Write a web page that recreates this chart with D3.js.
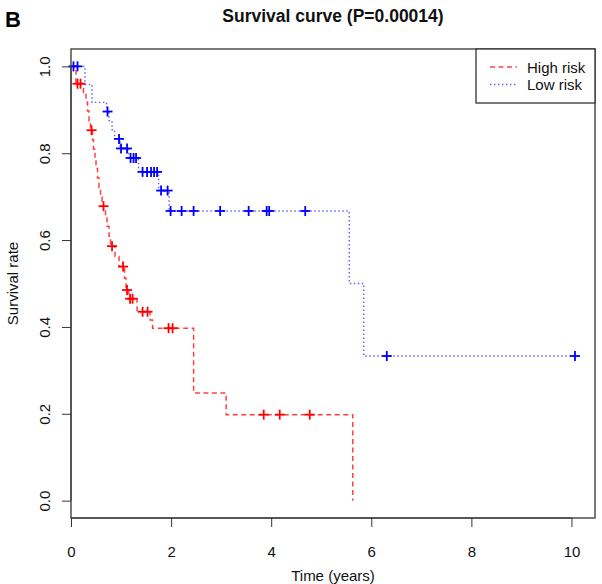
<!DOCTYPE html>
<html>
<head>
<meta charset="utf-8">
<script src="https://cdn.jsdelivr.net/npm/d3@7"></script>
<style>
  html, body { margin: 0; padding: 0; background: #fff; }
  svg { display: block; font-family: "Liberation Sans", Arial, sans-serif; }
</style>
</head>
<body>
<svg id="chart" width="602" height="584"></svg>
<script>
// ---------------- data ----------------
const panelLabel = "B";
const chartTitle = "Survival curve (P=0.00014)";
const xLabel = "Time (years)";
const yLabel = "Survival rate";
const seriesNames = ["High risk", "Low risk"];

const xTicks = [0, 2, 4, 6, 8, 10];
const yTicks = [0.0, 0.2, 0.4, 0.6, 0.8, 1.0];

// High risk: event times and survival after each step
const highTimes = [0, 0.10, 0.25, 0.30, 0.33, 0.36, 0.39, 0.43, 0.45, 0.48, 0.50, 0.53, 0.56, 0.59, 0.62,
                   0.69, 0.72, 0.76, 0.79, 0.88, 0.96, 1.07, 1.10, 1.15, 1.32, 1.58, 1.63, 2.45, 3.10, 5.63];
const highSurv  = [1.0, 0.960, 0.940, 0.918, 0.897, 0.875, 0.853, 0.831, 0.809, 0.787, 0.765, 0.743, 0.721, 0.699, 0.678,
                   0.655, 0.632, 0.609, 0.586, 0.562, 0.539, 0.512, 0.485, 0.465, 0.435, 0.416, 0.397, 0.248, 0.198, 0.0];
const highCensor = [0.13, 0.19, 0.41, 0.65, 0.82, 1.04, 1.12, 1.18, 1.23, 1.43, 1.53, 1.95, 2.03, 3.85, 4.17, 4.77];

// Low risk
const lowTimes = [0, 0.28, 0.42, 0.71, 0.76, 0.82, 0.87, 0.98, 1.15, 1.35, 1.75, 1.96, 5.56, 5.85];
const lowSurv  = [1.0, 0.958, 0.917, 0.896, 0.875, 0.854, 0.833, 0.811, 0.789, 0.757, 0.714, 0.667, 0.500, 0.333];
const lowCensor = [0.05, 0.13, 0.73, 0.96, 1.00, 1.12, 1.19, 1.25, 1.30, 1.43, 1.52, 1.60, 1.66, 1.72,
                   1.80, 1.93, 1.99, 2.21, 2.45, 2.98, 3.55, 3.91, 3.96, 4.68, 6.31, 10.07];

// ---------------- drawing ----------------
const svg = d3.select("#chart");
const box = { left: 71, right: 595, top: 49, bottom: 518 };

const x = d3.scaleLinear().domain([0, 10.47]).range([box.left, box.right]);
const y = d3.scaleLinear().domain([-0.04, 1.04]).range([box.bottom, box.top]);

const styles = [
  { color: "#ff0000", dash: "5,3.5", width: 1.5, opacity: 0.75 },
  { color: "#0000ff", dash: "1.4,2.6", width: 1.4, opacity: 0.65 }
];

function survAt(times, surv, t) {
  let s = surv[0];
  for (let i = 0; i < times.length; i++) if (times[i] <= t) s = surv[i];
  return s;
}

const series = [
  { times: highTimes, surv: highSurv, censor: highCensor, style: styles[0] },
  { times: lowTimes, surv: lowSurv, censor: lowCensor, style: styles[1] }
];

const line = d3.line().x(d => x(d[0])).y(d => y(d[1])).curve(d3.curveStepAfter);

series.forEach(s => {
  const pts = s.times.map((t, i) => [t, s.surv[i]]);
  const lastT = s.times[s.times.length - 1];
  const maxC = d3.max(s.censor);
  if (maxC > lastT) pts.push([maxC, s.surv[s.surv.length - 1]]);
  svg.append("path")
    .attr("d", line(pts))
    .attr("fill", "none")
    .attr("stroke", s.style.color)
    .attr("stroke-opacity", s.style.opacity)
    .attr("stroke-width", s.style.width)
    .attr("stroke-dasharray", s.style.dash);
});

// censor marks
series.forEach(s => {
  const g = svg.append("g").attr("stroke", s.style.color).attr("stroke-width", 1.8);
  s.censor.forEach(t => {
    const cx = x(t), cy = y(survAt(s.times, s.surv, t));
    g.append("line").attr("x1", cx - 5).attr("x2", cx + 5).attr("y1", cy).attr("y2", cy);
    g.append("line").attr("x1", cx).attr("x2", cx).attr("y1", cy - 5).attr("y2", cy + 5);
  });
});

// axes
const xAxis = d3.axisBottom(x).tickValues(xTicks).tickFormat(d3.format("d")).tickSize(9).tickSizeOuter(0);
const gx = svg.append("g").attr("transform", `translate(0,${box.bottom})`).call(xAxis);
gx.select(".domain").attr("d", `M${x(0)},0H${x(10)}`).attr("stroke", "#333");
gx.selectAll(".tick line").attr("stroke", "#333");
gx.selectAll(".tick text").attr("y", 39).attr("dy", 0)
  .attr("font-size", 15).attr("fill", "#111").attr("font-family", "Liberation Sans, Arial, sans-serif");

const yAxis = d3.axisLeft(y).tickValues(yTicks).tickFormat(d3.format(".1f")).tickSize(9).tickSizeOuter(0);
const gy = svg.append("g").attr("transform", `translate(${box.left},0)`).call(yAxis);
gy.select(".domain").attr("d", `M0,${y(0)}V${y(1)}`).attr("stroke", "#333");
gy.selectAll(".tick line").attr("stroke", "#333");
gy.selectAll(".tick text")
  .attr("x", 0).attr("dy", 0)
  .attr("transform", "translate(-21,0) rotate(-90)")
  .attr("text-anchor", "middle")
  .attr("font-size", 15).attr("fill", "#111").attr("font-family", "Liberation Sans, Arial, sans-serif");

// plot box
svg.append("rect")
  .attr("x", box.left).attr("y", box.top)
  .attr("width", box.right - box.left).attr("height", box.bottom - box.top)
  .attr("fill", "none").attr("stroke", "#333").attr("stroke-width", 1.3);

// legend
const lg = svg.append("g");
lg.append("rect").attr("x", 476).attr("y", box.top).attr("width", box.right - 476).attr("height", 54)
  .attr("fill", "#fff").attr("stroke", "#333").attr("stroke-width", 1.3);
seriesNames.forEach((name, i) => {
  const ly = 67 + i * 17.5;
  lg.append("line").attr("x1", 490).attr("x2", 517).attr("y1", ly).attr("y2", ly)
    .attr("stroke", styles[i].color).attr("stroke-opacity", styles[i].opacity)
    .attr("stroke-width", styles[i].width).attr("stroke-dasharray", styles[i].dash);
  lg.append("text").attr("x", 527).attr("y", ly + 5.5).attr("font-size", 15).attr("fill", "#111").text(name);
});

// titles and labels
svg.append("text").attr("x", (box.left + box.right) / 2).attr("y", 22).attr("text-anchor", "middle")
  .attr("font-size", 17.5).attr("font-weight", "bold").attr("fill", "#111").text(chartTitle);
svg.append("text").attr("x", 5).attr("y", 27).attr("font-size", 22).attr("font-weight", "bold")
  .attr("fill", "#000").text(panelLabel);
svg.append("text").attr("x", (box.left + box.right) / 2).attr("y", 581).attr("text-anchor", "middle")
  .attr("font-size", 15).attr("fill", "#111").text(xLabel);
svg.append("text").attr("transform", `translate(18,${(box.top + box.bottom) / 2}) rotate(-90)`)
  .attr("text-anchor", "middle").attr("font-size", 15).attr("fill", "#111").text(yLabel);
</script>
</body>
</html>
